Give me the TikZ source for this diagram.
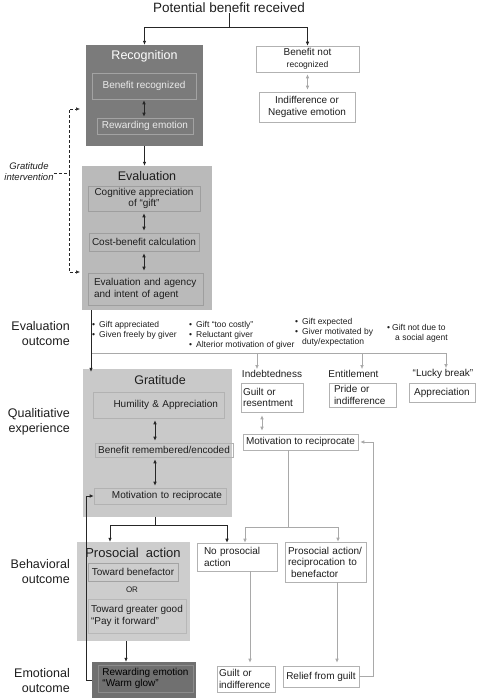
\documentclass[tikz,border=0pt]{standalone}
\usepackage{fontspec}
\setmainfont{Liberation Sans}
\usetikzlibrary{arrows.meta,calc}
\definecolor{recgrey}{HTML}{7B7B7B}
\definecolor{evalgrey}{HTML}{BABABA}
\definecolor{gratgrey}{HTML}{C9C9C9}
\definecolor{prosgrey}{HTML}{CDCDCD}
\definecolor{warmgrey}{HTML}{707070}
\definecolor{linegrey}{HTML}{A9A9A9}
\definecolor{edgegrey}{HTML}{B2B2B2}
\definecolor{inkgrey}{HTML}{1E1E1E}
\newcommand{\fsTitle}{\fontsize{13.5}{15}\selectfont}
\newcommand{\fsHead}{\fontsize{12.5}{15}\selectfont}
\newcommand{\fsBox}{\fontsize{10}{11.5}\selectfont}
\newcommand{\fsNote}{\fontsize{8.5}{10}\selectfont}
\newcommand{\blt}{\textbullet\hspace{4pt}}
\tikzset{
  >                 = {Latex[length=4pt,width=3.6pt]},
  grp/.style        = {draw=none, inner sep=0pt},
  inbox/.style      = {draw=#1, line width=0.6pt, inner sep=1pt, align=center,
                       font=\fsBox, text=inkgrey},
  wbox/.style       = {draw=edgegrey, fill=white, line width=0.6pt, inner sep=1pt,
                       align=center, font=\fsBox, text=inkgrey},
  head/.style       = {font=\fsHead, inner sep=0pt, text=inkgrey},
  side/.style       = {font=\fsHead, align=right, anchor=east, inner sep=0pt, text=inkgrey},
  bul/.style        = {font=\fsNote, align=left, anchor=west, inner sep=0pt, text=inkgrey},
  lbl/.style        = {font=\fsBox, inner sep=1pt, text=inkgrey},
  sig/.style        = {line width=0.7pt, draw=black!85},
  gsig/.style       = {line width=0.7pt, draw=linegrey},
  dsig/.style       = {line width=0.6pt, draw=black!85, dash pattern=on 3pt off 2pt},
}

\begin{document}
\begin{tikzpicture}[x=1pt,y=-1pt]
  \useasboundingbox (0,0) rectangle (478,698);
  \node[font=\fsTitle, inner sep=0pt, text=inkgrey] (top) at (229,8) {Potential benefit received};

  \node[grp, fill=recgrey, minimum width=117pt, minimum height=101pt] (rec) at (144.5,95.5) {};
  \node[head, text=white] (recT) at (144.5,56) {Recognition};
  \node[inbox=black!36, text=white!92!black, minimum width=104pt, minimum height=26pt] (recA) at (144,86) {Benefit recognized};
  \node[inbox=black!36, text=white!92!black, minimum width=96pt, minimum height=16pt] (recB) at (145,126) {Rewarding emotion};
  \node[wbox, minimum width=103pt, minimum height=26pt] (nrec) at (307.5,59) {Benefit not\\{\fsNote recognized}};
  \node[wbox, minimum width=96pt, minimum height=30pt] (neg) at (307,107) {Indifference or\\Negative emotion};

  \node[grp, fill=evalgrey, minimum width=130pt, minimum height=144pt] (eval) at (147,238) {};
  \node[head] (evalT) at (147,176) {Evaluation};
  \node[inbox=black!38, minimum width=112pt, minimum height=25pt] (evA) at (144,198.5) {Cognitive appreciation\\of “gift”};
  \node[inbox=black!38, minimum width=110pt, minimum height=18pt] (evB) at (144,242) {Cost-benefit calculation};
  \node[inbox=black!38, minimum width=115pt, minimum height=32pt, text width=103pt, align=left, inner xsep=6pt] (evC) at (145.5,289) {Evaluation and agency\\and intent of agent};

  \node[font=\fontsize{9.5}{11}\selectfont\itshape, align=center, inner sep=0pt, text=inkgrey] (gi) at (29,171.5) {Gratitude\\intervention};
  \coordinate (giM) at (69,173);
  \coordinate (giA) at (80,109);
  \coordinate (giB) at (80,272);

  \node[side] (lEval) at (70,333.5) {Evaluation\\outcome};
  \node[side] (lQual) at (70,422) {Qualitiative\\experience};
  \node[side] (lBeh) at (70,572) {Behavioral\\outcome};
  \node[side] (lEmo) at (70,680.5) {Emotional\\outcome};

  \node[bul] (bA) at (92,330.5) {\blt Gift appreciated\\\blt Given freely by giver};
  \node[bul] (bB) at (189,335) {\blt Gift “too costly”\\\blt Reluctant giver\\\blt Alterior motivation of giver};
  \node[bul] (bC) at (295,332.5) {\blt Gift expected\\\blt Giver motivated by\\\phantom{\blt}duty/expectation};
  \node[bul] (bD) at (387,333.5) {\textbullet\hspace{2pt}Gift not due to\\\hspace*{8pt}a social agent};

  \node[lbl] (indeb) at (272,374) {Indebtedness};
  \node[lbl] (entit) at (353.5,374) {Entitlement};
  \node[lbl] (lucky) at (443,374) {“Lucky break”};
  \coordinate (evOut) at (91,353);
  \coordinate (brA) at (257,353);
  \coordinate (brB) at (362,353);
  \coordinate (brC) at (446,353);

  \node[grp, fill=gratgrey, minimum width=149pt, minimum height=148pt] (grat) at (157.5,443) {};
  \node[head] (gratT) at (160,380) {Gratitude};
  \node[inbox=black!30, minimum width=131pt, minimum height=26pt, text width=119pt, align=right, inner xsep=6pt] (grA) at (158.5,405) {Humility \& Appreciation};
  \node[inbox=black!30, minimum width=138pt, minimum height=14pt] (grB) at (164,450) {Benefit remembered/encoded};
  \node[inbox=black!30, minimum width=132pt, minimum height=16pt, text width=124pt, align=right, inner xsep=4pt] (grC) at (160,496) {Motivation to reciprocate};
  \coordinate (gx) at (155,0);

  \node[wbox, minimum width=62pt, minimum height=29pt, text width=58pt, align=left, inner xsep=2pt] (guilt) at (272,397.5) {Guilt or\\resentment};
  \node[wbox, minimum width=67pt, minimum height=24pt, text width=57pt, align=left, inner xsep=5pt] (pride) at (362.5,395) {Pride or\\indifference};
  \node[wbox, minimum width=66pt, minimum height=19pt] (appr) at (442,392.5) {Appreciation};
  \node[wbox, minimum width=115pt, minimum height=16pt] (motR) at (300.5,442) {Motivation to reciprocate};
  \coordinate (rx) at (262,0);
  \coordinate (brD) at (288,527);
  \coordinate (brE) at (245,527);
  \coordinate (brF) at (338,527);

  \node[wbox, minimum width=80pt, minimum height=28pt, text width=66pt, align=left, inner xsep=7pt] (nopro) at (237,557) {No prosocial\\action};
  \node[wbox, minimum width=81pt, minimum height=40pt, text width=75pt, align=left, inner xsep=3pt] (prorec) at (325.5,562) {Prosocial action/\\reciprocation to\\\hspace*{3pt}benefactor};
  \node[wbox, minimum width=58pt, minimum height=26pt, text width=54pt, align=left, inner xsep=2pt] (guiltB) at (246,679) {Guilt or\\indifference};
  \node[wbox, minimum width=76pt, minimum height=21pt] (relief) at (321,676.5) {Relief from guilt};
  \coordinate (ry) at (250,0);
  \coordinate (rz) at (337,0);
  \coordinate (lpR) at (373,0);

  \node[grp, fill=prosgrey, minimum width=113pt, minimum height=99pt] (pros) at (133.5,591.5) {};
  \node[head, font=\fontsize{13}{15}\selectfont] (prosT) at (133,553) {Prosocial\ \ action};
  \node[inbox=black!36, minimum width=90pt, minimum height=18pt] (prA) at (133,572) {Toward benefactor};
  \node[font=\fontsize{8}{9}\selectfont, inner sep=0pt, text=inkgrey] (orT) at (132,590) {OR};
  \node[inbox=black!28, minimum width=98pt, minimum height=34pt, align=left] (prB) at (137,616) {Toward greater good\\“Pay it forward”};
  \coordinate (brG) at (155,525);
  \coordinate (brH) at (110,525);
  \coordinate (brI) at (227,525);
  \coordinate (px) at (126,0);

  \node[grp, fill=warmgrey, minimum width=104pt, minimum height=36pt] (warm) at (144,680) {};
  \node[inbox=black!45, minimum width=95pt, minimum height=27pt, align=left, text=black] (warmA) at (145.5,678.5) {Rewarding emotion\\“Warm glow”};
  \coordinate (lpL) at (86,0);

  \coordinate (brT) at (229,27);
  \draw[sig] (top) -- (brT);
  \draw[sig,->] (brT) -| (rec.north);
  \draw[sig,->] (brT) -| (nrec.north);
  \draw[sig,<->, shorten >=1pt, shorten <=1pt] (recA.south) -- (recA.south |- recB.north);
  \draw[sig,->] (rec.south) -- (rec.south |- eval.north);
  \draw[gsig,<->, shorten >=2pt, shorten <=2pt] (nrec.south) -- (nrec.south |- neg.north);
  \draw[sig,<->, shorten >=2pt, shorten <=2pt] (evA.south) -- (evA.south |- evB.north);
  \draw[sig,<->, shorten >=2pt, shorten <=2pt] (evB.south) -- (evB.south |- evC.north);
  \draw[dsig] (gi.east |- giM) -- (giM);
  \draw[dsig,->] (giM) |- (giA);
  \draw[dsig,->] (giM) |- (giB);

  \draw[gsig] (evOut) -- (brC);
  \draw[gsig,->] (brA) -- (brA |- indeb.north);
  \draw[gsig,->] (brB) -- (brB |- entit.north);
  \draw[gsig,->] (brC) -- (brC |- lucky.north);
  \draw[sig,->] (eval.south -| evOut) -- ([yshift=-3pt]grat.north -| evOut);

  \draw[sig,<->, shorten >=2pt, shorten <=2pt] (grA.south -| gx) -- (grB.north -| gx);
  \draw[sig,<->, shorten >=2pt, shorten <=2pt] (grB.south -| gx) -- (grC.north -| gx);
  \draw[gsig,<->, shorten >=3pt, shorten <=3pt] (guilt.south -| rx) -- (motR.north -| rx);

  \draw[sig] (grat.south -| brG) -- (brG);
  \draw[sig] (brH) -- (brI);
  \draw[sig,->] (brH) -- (brH |- pros.north);
  \draw[sig,->] (brI) -- (brI |- nopro.north);
  \draw[gsig] (motR.south -| brD) -- (brD);
  \draw[gsig] (brE) -- (brF);
  \draw[gsig,->] (brE) -- (brE |- nopro.north);
  \draw[gsig,->] (brF) -- (brF |- prorec.north);

  \draw[gsig,->, shorten >=3pt] (nopro.south -| ry) -- (guiltB.north -| ry);
  \draw[gsig,->, shorten >=3pt] (prorec.south -| rz) -- (relief.north -| rz);
  \draw[gsig,->, shorten >=2pt] (relief.east) -- (relief.east -| lpR) |- (motR.east);
  \draw[sig,->] (pros.south -| px) -- (warm.north -| px);
  \draw[sig,->] (warm.west) -- (warm.west -| lpL) |- (grC.west);
\end{tikzpicture}
\end{document}
